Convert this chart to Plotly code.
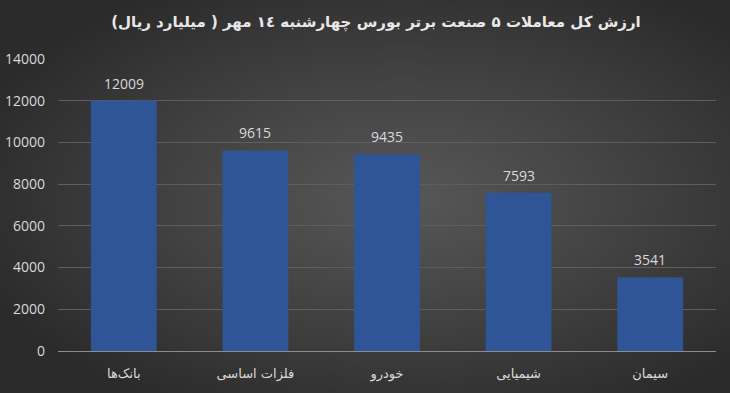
import base64, struct, zlib
import numpy as np
import plotly.graph_objects as go

categories = ["بانک‌ها", "فلزات اساسی", "خودرو", "شیمیایی", "سیمان"]
values = [12009, 9615, 9435, 7593, 3541]
tick_vals = [0, 2000, 4000, 6000, 8000, 10000, 12000, 14000]
tick_text = ["0", "2000", "4000", "6000", "8000", "10000", "12000", "14000"]
title_text = "ارزش کل معاملات ۵ صنعت برتر بورس چهارشنبه ١٤ مهر ( میلیارد ریال)"

W, H = 730, 393

# radial gradient background image
def gradient_png(w, h):
    yy, xx = np.mgrid[0:h, 0:w].astype(float)
    cx, cy = w * 0.55, h * 0.5
    d = np.sqrt(((xx - cx) / (w * 0.62)) ** 2 + ((yy - cy) / (h * 0.62)) ** 2)
    d = np.clip(d, 0, 1)
    inner, outer = 0x57, 0x2b
    v = (inner + (outer - inner) * d ** 1.1).astype(np.uint8)
    rgb = np.stack([v, v, v], axis=-1)
    raw = b"".join(b"\x00" + rgb[r].tobytes() for r in range(h))
    def chunk(t, data):
        c = struct.pack(">I", len(data)) + t + data
        return c + struct.pack(">I", zlib.crc32(t + data) & 0xffffffff)
    png = b"\x89PNG\r\n\x1a\n" + chunk(b"IHDR", struct.pack(">IIBBBBB", w, h, 8, 2, 0, 0, 0))
    png += chunk(b"IDAT", zlib.compress(raw, 9)) + chunk(b"IEND", b"")
    return "data:image/png;base64," + base64.b64encode(png).decode()

bg = gradient_png(365, 197)

L, R, T, B = 58, 14, 59, 42
PW, PH = W - L - R, H - T - B

fig = go.Figure()
fig.add_trace(go.Bar(
    x=categories, y=values,
    marker=dict(color="#2f5597", line=dict(width=0)),
    hoverinfo="x+y",
))
for c, v in zip(categories, values):
    fig.add_annotation(x=c, y=v, text=str(v), showarrow=False, yanchor="bottom", yshift=6,
                       font=dict(family="Open Sans, Liberation Sans, sans-serif", size=14, color="#d9d9d9"))

fig.update_layout(
    width=W, height=H,
    paper_bgcolor="#2b2b2b", plot_bgcolor="rgba(0,0,0,0)",
    margin=dict(l=L, r=R, t=T, b=B, autoexpand=False),
    bargap=0.5,
    showlegend=False,
    title=dict(text="<b>" + title_text + "</b>", x=0.515, xanchor="center",
               y=1 - 22 / H, yanchor="middle",
               font=dict(family="DejaVu Sans, sans-serif", size=15, color="#e8e8e8")),
    images=[dict(source=bg, xref="paper", yref="paper", x=-L / PW, y=1 + T / PH,
                 sizex=W / PW, sizey=H / PH, sizing="stretch", layer="below",
                 xanchor="left", yanchor="top")],
    xaxis=dict(showgrid=False, showline=True, linecolor="#8c8c8c", linewidth=1,
               ticks="", ticklabelstandoff=10,
               tickfont=dict(family="DejaVu Sans, sans-serif", size=13, color="#d9d9d9")),
    yaxis=dict(range=[0, 14000], tickvals=tick_vals, ticktext=tick_text,
               showgrid=True, gridcolor="#5e5e5e",
               gridwidth=1, zeroline=False, showline=False, ticks="", ticklabelstandoff=12,
               tickfont=dict(family="Open Sans, Liberation Sans, sans-serif", size=14, color="#d9d9d9")),
)
fig.write_html("out.html", config={"displayModeBar": False},
               post_script="document.body.style.margin='0';document.body.style.padding='0';")
